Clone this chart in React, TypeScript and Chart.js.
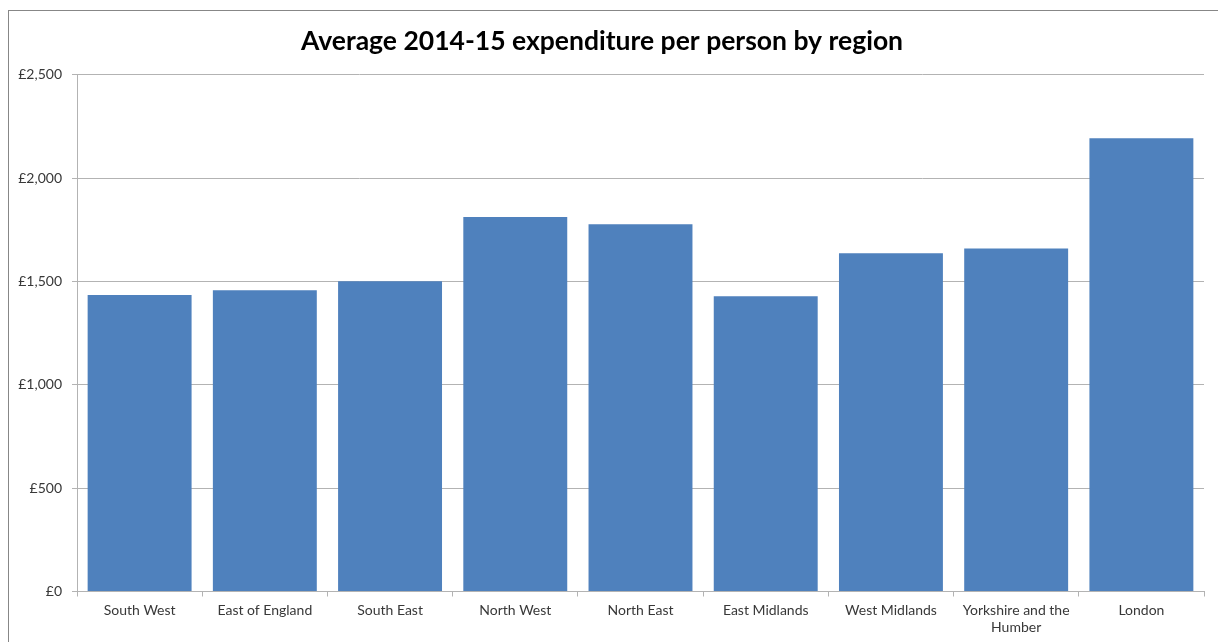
import React, { useEffect, useRef } from "react";
import { Chart, registerables } from "chart.js";

Chart.register(...registerables);

const TITLE = "Average 2014-15 expenditure per person by region";
const regions: (string | string[])[] = [
  "South West",
  "East of England",
  "South East",
  "North West",
  "North East",
  "East Midlands",
  "West Midlands",
  ["Yorkshire and the", "Humber"],
  "London",
];
const expenditure = [1434, 1458, 1501, 1812, 1777, 1429, 1637, 1660, 2193];
const yMin = 0;
const yMax = 2500;
const yStep = 500;

const FONT = "Lato, 'Open Sans', sans-serif";
const BAR = "#4F81BD";
const GRID = "#B3B3B3";
const TICK = "#383838";

export default function App() {
  const ref = useRef<HTMLCanvasElement | null>(null);

  useEffect(() => {
    if (!ref.current) return;
    const chart = new Chart(ref.current, {
      type: "bar",
      data: {
        labels: regions as any,
        datasets: [
          {
            data: expenditure,
            backgroundColor: BAR,
            borderWidth: 0,
            barPercentage: 0.83,
            categoryPercentage: 1,
          },
        ],
      },
      options: {
        responsive: false,
        animation: false,
        devicePixelRatio: 1,
        layout: { padding: { left: 0, right: 14, top: 0, bottom: 0 } },
        plugins: {
          legend: { display: false },
          tooltip: { enabled: false },
          title: {
            display: true,
            text: TITLE,
            color: "#000000",
            font: { family: FONT, size: 26.5, weight: "bold", lineHeight: 1.2 },
            padding: { top: 26, bottom: 17 },
          },
        },
        scales: {
          x: {
            grid: {
              display: true,
              drawOnChartArea: false,
              drawTicks: true,
              tickLength: 5,
              color: GRID,
              offset: true,
            },
            border: { display: true, color: GRID },
            ticks: {
              color: TICK,
              font: { family: FONT, size: 14, lineHeight: 1.22 },
              padding: 5,
              maxRotation: 0,
              autoSkip: false,
            },
            afterFit: (scale: any) => {
              scale.height = 50.5;
            },
          },
          y: {
            min: yMin,
            max: yMax,
            grid: {
              color: GRID,
              tickLength: 5,
              drawTicks: true,
            },
            border: { display: true, color: GRID },
            ticks: {
              stepSize: yStep,
              color: TICK,
              font: { family: FONT, size: 14 },
              padding: 10,
              callback: (v: any) => "£" + Number(v).toLocaleString("en-GB"),
            },
            afterFit: (scale: any) => {
              scale.width = 77;
            },
          },
        },
      },
    });
    return () => chart.destroy();
  }, []);

  return (
    <div style={{ position: "fixed", left: 0, top: 0, width: 1218, height: 642, background: "#fff", overflow: "hidden" }}>
      <div
        style={{
          position: "absolute",
          left: 8,
          top: 10,
          width: 1220,
          height: 640,
          borderLeft: "1px solid #878787",
          borderTop: "1px solid #878787",
          boxSizing: "border-box",
        }}
      />
      <canvas ref={ref} width={1218} height={642} style={{ position: "absolute", left: 0, top: 0 }} />
    </div>
  );
}
